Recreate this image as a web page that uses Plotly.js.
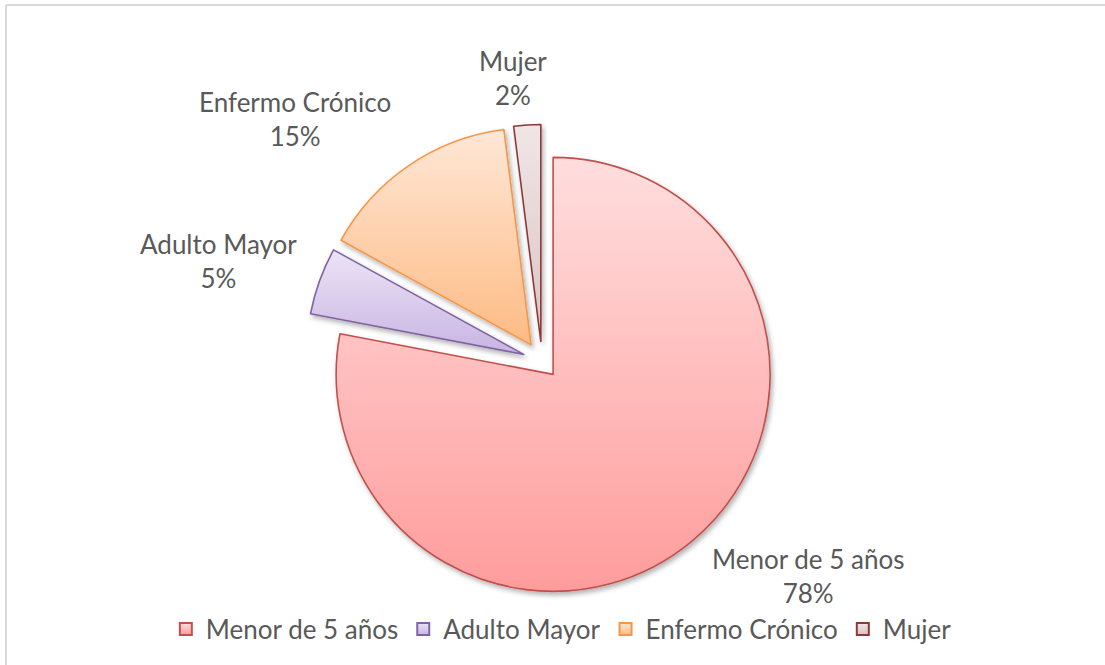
<!DOCTYPE html>
<html>
<head>
<meta charset="utf-8">
<script src="https://cdn.plot.ly/plotly-3.0.1.min.js"></script>
<style>html,body{margin:0;padding:0;background:#fff;} #chart{width:1105px;height:665px;}</style>
</head>
<body>
<div id="chart"></div>
<script>
// ---- data ----
const categories = ["Menor de 5 años", "Adulto Mayor", "Enfermo Crónico", "Mujer"];
const values = [78, 5, 15, 2];

// ---- style ----
const fillColors = ["#FFBDBD", "#D9CCEC", "#FED3B0", "#E8D6D6"];
const gradTop = ["#FFDEDE", "#ECE4F6", "#FFE7D6", "#F0E6E6"];
const gradBottom = ["#FF9C9C", "#C8B4E2", "#FDBB84", "#DCC3C3"];
const lineColors = ["#C0504D", "#8064A2", "#F79646", "#8B3A3A"];
const pulls = [0.08, 0.09, 0.09, 0.09];
const labelPos = [[808, 576], [218, 261], [295, 119], [513, 78]]; // pixel positions of data labels

const W = 1105, H = 665;
const total = values.reduce((a, b) => a + b, 0);
const font = "Lato, 'Liberation Sans', sans-serif";
const textColor = "#595959";

const annotations = categories.map((c, i) => ({
  xref: "paper", yref: "paper",
  x: labelPos[i][0] / W, y: 1 - labelPos[i][1] / H,
  xanchor: "center", yanchor: "middle",
  text: c + "<br>" + Math.round(values[i] / total * 100) + "%",
  showarrow: false,
  font: {family: font, size: 26, color: textColor}
}));

const trace = {
  type: "pie",
  labels: categories,
  values: values,
  sort: false,
  direction: "clockwise",
  rotation: 0,
  pull: pulls,
  textinfo: "none",
  hoverinfo: "label+percent",
  marker: {colors: fillColors, line: {color: lineColors, width: 1.6}},
  domain: {x: [0.2765, 0.7046], y: [0.1015, 0.8128]}
};

const layout = {
  width: W, height: H,
  margin: {l: 0, r: 0, t: 0, b: 0},
  paper_bgcolor: "#ffffff",
  showlegend: true,
  legend: {
    orientation: "h", x: 0.508, xanchor: "center", y: 1 - 629 / H, yanchor: "middle",
    bgcolor: "rgba(0,0,0,0)",
    font: {family: font, size: 26, color: textColor},
    itemsizing: "constant", itemwidth: 30
  },
  annotations: annotations,
  shapes: [
    {type: "line", xref: "paper", yref: "paper", x0: 6 / W, x1: 6 / W, y0: 0, y1: 1 - 5 / H, line: {color: "#D9D9D9", width: 2}},
    {type: "line", xref: "paper", yref: "paper", x0: 6 / W, x1: 1, y0: 1 - 5 / H, y1: 1 - 5 / H, line: {color: "#D9D9D9", width: 2}}
  ]
};

Plotly.newPlot("chart", [trace], layout, {displayModeBar: false, staticPlot: true}).then(gd => {
  const NS = "http://www.w3.org/2000/svg";
  const svg = gd.querySelector(".main-svg");
  let defs = svg.querySelector("defs");
  if (!defs) { defs = document.createElementNS(NS, "defs"); svg.insertBefore(defs, svg.firstChild); }
  categories.forEach((c, i) => {
    const g = document.createElementNS(NS, "linearGradient");
    g.setAttribute("id", "pgrad" + i);
    g.setAttribute("x1", "0"); g.setAttribute("y1", "0");
    g.setAttribute("x2", "0"); g.setAttribute("y2", "1");
    [[0, gradTop[i]], [1, gradBottom[i]]].forEach(([o, col]) => {
      const s = document.createElementNS(NS, "stop");
      s.setAttribute("offset", o); s.setAttribute("stop-color", col);
      g.appendChild(s);
    });
    defs.appendChild(g);
  });
  const f = document.createElementNS(NS, "filter");
  f.setAttribute("id", "pshadow");
  f.setAttribute("x", "-20%"); f.setAttribute("y", "-20%");
  f.setAttribute("width", "140%"); f.setAttribute("height", "140%");
  const ds = document.createElementNS(NS, "feDropShadow");
  ds.setAttribute("dx", "2"); ds.setAttribute("dy", "3");
  ds.setAttribute("stdDeviation", "2.5");
  ds.setAttribute("flood-color", "#000"); ds.setAttribute("flood-opacity", "0.3");
  f.appendChild(ds);
  defs.appendChild(f);
  gd.querySelectorAll("g.slice").forEach((s, i) => {
    const p = s.querySelector("path.surface");
    if (p) { p.style.fill = "url(#pgrad" + i + ")"; }
    s.setAttribute("filter", "url(#pshadow)");
  });
  gd.querySelectorAll(".legendpoints path").forEach((p, i) => {
    p.style.fill = "url(#pgrad" + i + ")";
  });
});
</script>
</body>
</html>
